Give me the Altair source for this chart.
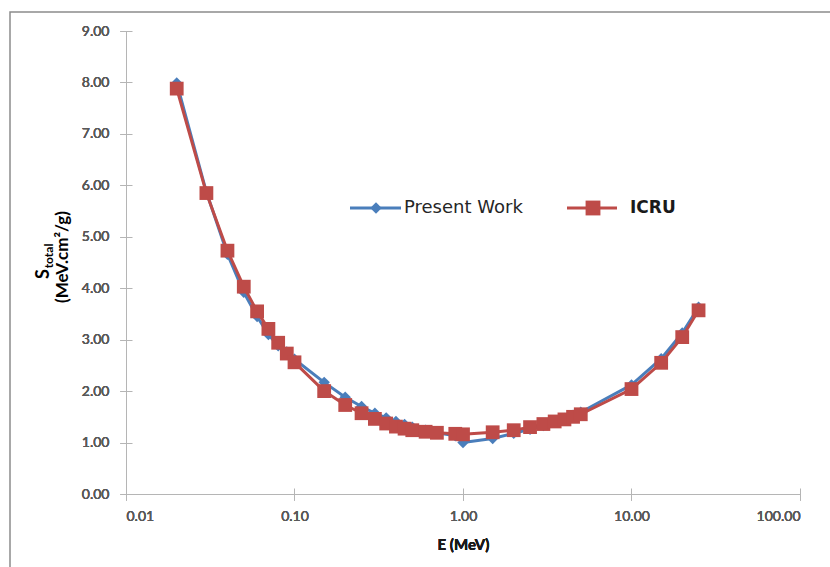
import altair as alt
import pandas as pd

# ---- data ----
energy = [0.02, 0.03, 0.04, 0.05, 0.06, 0.07, 0.08, 0.09, 0.1, 0.15, 0.2, 0.25, 0.3,
          0.35, 0.4, 0.45, 0.5, 0.6, 0.7, 0.9, 1.0, 1.5, 2.0, 2.5, 3.0, 3.5, 4.0, 4.5,
          5.0, 10.0, 15.0, 20.0, 25.0]
present_work = [7.99, 5.87, 4.66, 3.92, 3.45, 3.10, 2.88, 2.76, 2.62, 2.17, 1.88, 1.70, 1.57,
                1.48, 1.41, 1.35, 1.30, 1.24, 1.19, 1.13, 1.00, 1.08, 1.18, 1.26, 1.33, 1.40,
                1.47, 1.53, 1.59, 2.12, 2.63, 3.13, 3.63]
icru = [7.88, 5.85, 4.73, 4.03, 3.55, 3.21, 2.94, 2.73, 2.56, 2.00, 1.73, 1.57, 1.46,
        1.37, 1.31, 1.27, 1.24, 1.21, 1.19, 1.17, 1.16, 1.20, 1.24, 1.30, 1.36, 1.41,
        1.45, 1.50, 1.55, 2.04, 2.55, 3.05, 3.57]
series_names = ["Present Work", "ICRU"]
x_ticks = [0.01, 0.1, 1, 10, 100]
y_ticks = [0, 1, 2, 3, 4, 5, 6, 7, 8, 9]
x_title = "E (MeV)"
y_title_main = "S"
y_title_sub = "total"
y_title_unit = "(MeV.cm²/g)"

BLUE = "#4A7EBB"
RED = "#BE4B48"
AXIS_GREY = "#B5B5B5"
FONT = "Lato"

W, H = 674, 463

pw_df = pd.DataFrame({"E": energy, "S": present_work, "series": series_names[0]})
icru_df = pd.DataFrame({"E": energy, "S": icru, "series": series_names[1]})
one = pd.DataFrame({"k": [0]})

x_scale = alt.Scale(type="log", domain=[0.01, 100])
y_scale = alt.Scale(domain=[0, 9])

x_axis = alt.Axis(values=x_ticks, format=".2f", title=x_title, grid=False, orient="bottom",
                  tickSize=6, labelPadding=9, titlePadding=14,
                  domainColor=AXIS_GREY, tickColor=AXIS_GREY)
y_axis = alt.Axis(values=y_ticks, format=".2f", title=None, grid=False, orient="left",
                  tickSize=6, labelPadding=11,
                  domainColor=AXIS_GREY, tickColor=AXIS_GREY)

X = alt.X("E:Q", scale=x_scale, axis=x_axis)
Y = alt.Y("S:Q", scale=y_scale, axis=y_axis)

pw_line = alt.Chart(pw_df).mark_line(color=BLUE, strokeWidth=3, strokeJoin="round").encode(x=X, y=Y)
pw_pts = alt.Chart(pw_df).mark_point(shape="diamond", filled=True, color=BLUE, size=130, opacity=1).encode(x=X, y=Y)
ic_line = alt.Chart(icru_df).mark_line(color=RED, strokeWidth=3, strokeJoin="round").encode(x=X, y=Y)
ic_pts = alt.Chart(icru_df).mark_point(shape="square", filled=True, color=RED, size=190, opacity=1).encode(x=X, y=Y)

# inner half of the crossing tick marks
inner = alt.Chart(pw_df).mark_point(opacity=0).encode(
    x=alt.X("E:Q", scale=x_scale, axis=alt.Axis(values=x_ticks, orient="bottom", offset=-6, tickSize=6,
                                                 domain=False, labels=False, title=None, grid=False,
                                                 tickColor=AXIS_GREY)),
    y=alt.Y("S:Q", scale=y_scale, axis=alt.Axis(values=y_ticks, orient="left", offset=-6, tickSize=6,
                                                 domain=False, labels=False, title=None, grid=False,
                                                 tickColor=AXIS_GREY)),
)

# y-axis title with subscript
t_S = alt.Chart(one).mark_text(text=y_title_main, angle=270, font=FONT, fontSize=18, fontWeight="bold",
                               color="#000000", align="center", baseline="middle").encode(
    x=alt.value(-82), y=alt.value(243))
t_sub = alt.Chart(one).mark_text(text=y_title_sub, angle=270, font=FONT, fontSize=12, fontWeight="bold",
                                 color="#000000", align="center", baseline="middle").encode(
    x=alt.value(-77), y=alt.value(225))
t_unit = alt.Chart(one).mark_text(text=y_title_unit, angle=270, font=FONT, fontSize=17, fontWeight="bold",
                                  color="#000000", align="center", baseline="middle").encode(
    x=alt.value(-63), y=alt.value(226))

# legend drawn inside the plot
leg_y = 177
lg1_line = alt.Chart(one).mark_rule(color=BLUE, strokeWidth=3).encode(
    x=alt.value(224), x2=alt.value(275), y=alt.value(leg_y))
lg1_pt = alt.Chart(one).mark_point(shape="diamond", filled=True, color=BLUE, size=130, opacity=1).encode(
    x=alt.value(250), y=alt.value(leg_y))
lg1_txt = alt.Chart(one).mark_text(text=series_names[0], font="DejaVu Sans", fontSize=18, color="#262626",
                                   align="left", baseline="middle").encode(x=alt.value(278), y=alt.value(leg_y))
lg2_line = alt.Chart(one).mark_rule(color=RED, strokeWidth=3).encode(
    x=alt.value(441), x2=alt.value(491), y=alt.value(leg_y))
lg2_pt = alt.Chart(one).mark_point(shape="square", filled=True, color=RED, size=220, opacity=1).encode(
    x=alt.value(467), y=alt.value(leg_y))
lg2_txt = alt.Chart(one).mark_text(text=series_names[1], font="DejaVu Sans", fontSize=17, fontWeight="bold",
                                   color="#1a1a1a", align="left", baseline="middle").encode(
    x=alt.value(504), y=alt.value(leg_y))

# chart-area border
border = alt.Chart(one).mark_rect(fillOpacity=0, stroke="#8C8C8C", strokeWidth=1.5).encode(
    x=alt.value(-116), y=alt.value(-19), x2=alt.value(740), y2=alt.value(600))

chart = alt.layer(
    border, inner, pw_line, pw_pts, ic_line, ic_pts,
    t_S, t_sub, t_unit,
    lg1_line, lg1_pt, lg1_txt, lg2_line, lg2_pt, lg2_txt,
).resolve_axis(x="independent", y="independent").properties(
    width=W, height=H,
    autosize=alt.AutoSizeParams(type="none"),
    padding={"left": 126, "top": 31, "right": 30, "bottom": 73},
    background="white",
).configure_view(stroke=None).configure_axis(
    labelFont=FONT, labelFontSize=14, labelColor="#595959",
    titleFont=FONT, titleFontSize=15, titleFontWeight="bold", titleColor="#1a1a1a",
)

chart.save("out.html", embed_options={"renderer": "svg", "actions": False})
